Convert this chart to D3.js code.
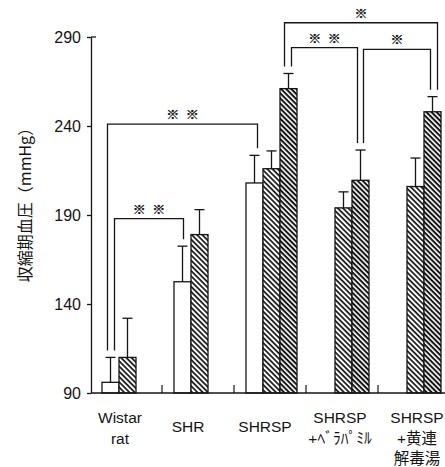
<!DOCTYPE html>
<html>
<head>
<meta charset="utf-8">
<script src="https://cdn.jsdelivr.net/npm/d3@7"></script>
<style>
  body { margin: 0; background: #fff; }
  svg { display: block; }
</style>
</head>
<body>
<div id="chart"></div>
<script>
// data (mmHg, mean + upper error)
const categories = ["Wistar rat", "SHR", "SHRSP", "SHRSP+ﾍﾞﾗﾊﾟﾐﾙ", "SHRSP+黄連解毒湯"];
const categoryLines = [["Wistar", "rat"], ["SHR"], ["SHRSP"], ["SHRSP", "+ﾍﾞﾗﾊﾟﾐﾙ"], ["SHRSP", "+黄連", "解毒湯"]];
const seriesNames = ["open", "hatched", "dense"];
const openMeans = [96, 152.5, 208, null, null];
const openErrors = [14, 20, 15.5, null, null];
const hatchedMeans = [110, 179, 216, 194, 206];
const hatchedErrors = [22, 14, 10, 9, 16];
const denseMeans = [null, null, 261, 209.5, 248];
const denseErrors = [null, null, 8.5, 17, 8.5];
const yTicks = [90, 140, 190, 240, 290];
const yTitle = "収縮期血圧（mmHg）";
// significance brackets: [category, series] at both ends
const brackets = [
  { from: [0, 0], to: [1, 0], level: 188, mark: "※\u2002※" },
  { from: [0, 0], to: [2, 0], level: 241, mark: "※\u2002※" },
  { from: [2, 2], to: [4, 2], level: 298, mark: "※" },
  { from: [2, 2], to: [3, 2], level: 284, mark: "※\u2002※" },
  { from: [3, 2], to: [4, 2], level: 283, mark: "※" }
];

const W = 445, H = 467;
const ink = "#141414";
const bracketDx = [[4, 1], [-3, 3], [-4, 5], [3, -3], [3, -2]];
const labelShift = [-6, -10, -5, -2, 3];

const svg = d3.select("#chart").append("svg")
  .attr("width", W).attr("height", H)
  .style("font-family", "'Liberation Sans', Arial, 'Noto Sans CJK JP', sans-serif");

const defs = svg.append("defs");
function hatch(id, gap, thick) {
  const p = defs.append("pattern")
    .attr("id", id)
    .attr("patternUnits", "userSpaceOnUse")
    .attr("width", gap).attr("height", gap)
    .attr("patternTransform", "rotate(45)");
  p.append("rect").attr("width", gap).attr("height", gap).attr("fill", "#fff");
  p.append("rect").attr("width", gap).attr("height", thick).attr("fill", ink);
}
hatch("hatchB", 3.7, 1.7);
hatch("hatchC", 3.6, 2.0);
const fills = ["#fff", "url(#hatchB)", "url(#hatchC)"];

const y = d3.scaleLinear().domain([90, 290]).range([393, 37]);
const x = d3.scaleBand().domain(categories).range([90, 450]);
const slot = d3.scaleBand().domain(seriesNames).range([12, 63]);

const means = [openMeans, hatchedMeans, denseMeans];
const errors = [openErrors, hatchedErrors, denseErrors];

const bars = [];
categories.forEach((c, i) => {
  seriesNames.forEach((s, j) => {
    if (means[j][i] != null) {
      bars.push({ c: c, i: i, s: s, j: j, v: means[j][i], e: errors[j][i] });
    }
  });
});
const barX = (i, j) => x(categories[i]) + slot(seriesNames[j]);
const barMid = (i, j) => barX(i, j) + slot.bandwidth() / 2;
const errTop = (i, j) => y(means[j][i] + errors[j][i]);

// bars
svg.append("g").selectAll("rect")
  .data(bars)
  .enter().append("rect")
  .attr("x", d => barX(d.i, d.j))
  .attr("y", d => y(d.v))
  .attr("width", slot.bandwidth())
  .attr("height", d => y(90) - y(d.v))
  .attr("fill", d => fills[d.j])
  .attr("stroke", ink)
  .attr("stroke-width", 1.3);

// error bars (upper only)
const eb = svg.append("g").attr("stroke", ink).attr("stroke-width", 1.3);
eb.selectAll("line.v")
  .data(bars).enter().append("line")
  .attr("class", "v")
  .attr("x1", d => barMid(d.i, d.j)).attr("x2", d => barMid(d.i, d.j))
  .attr("y1", d => y(d.v)).attr("y2", d => y(d.v + d.e));
eb.selectAll("line.cap")
  .data(bars).enter().append("line")
  .attr("class", "cap")
  .attr("x1", d => barMid(d.i, d.j) - 5).attr("x2", d => barMid(d.i, d.j) + 5)
  .attr("y1", d => y(d.v + d.e)).attr("y2", d => y(d.v + d.e));

// y axis
const yAxis = svg.append("g")
  .attr("transform", "translate(91,0)")
  .call(d3.axisLeft(y).tickValues(yTicks).tickSize(4).tickSizeOuter(0).tickPadding(6));
yAxis.select(".domain").attr("stroke", ink).attr("stroke-width", 1.3);
yAxis.selectAll(".tick line").attr("stroke", ink).attr("stroke-width", 1.3);
yAxis.selectAll(".tick text")
  .attr("fill", ink)
  .style("font-size", "16px")
  .style("font-family", "'Liberation Sans', Arial, sans-serif");
svg.append("line")
  .attr("x1", 91).attr("x2", 96)
  .attr("y1", y(290)).attr("y2", y(290))
  .attr("stroke", ink).attr("stroke-width", 1.3);

// x baseline and group ticks
svg.append("line")
  .attr("x1", 91).attr("x2", W)
  .attr("y1", y(90)).attr("y2", y(90))
  .attr("stroke", ink).attr("stroke-width", 1.4);
svg.append("g").selectAll("line")
  .data(categories.slice(1))
  .enter().append("line")
  .attr("x1", d => x(d)).attr("x2", d => x(d))
  .attr("y1", y(90) - 8).attr("y2", y(90))
  .attr("stroke", ink).attr("stroke-width", 1.2);

// category labels
const lab = svg.append("g").selectAll("text")
  .data(categoryLines)
  .enter().append("text")
  .attr("text-anchor", "middle")
  .attr("fill", ink)
  .style("font-size", "15.5px")
  .attr("transform", (d, i) => {
    const cx = x(categories[i]) + x.bandwidth() / 2 + labelShift[i];
    return "translate(" + cx + "," + (d.length === 1 ? 432 : 423) + ")";
  });
lab.selectAll("tspan")
  .data(d => d)
  .enter().append("tspan")
  .attr("x", 0)
  .attr("dy", (d, k) => k === 0 ? 0 : 20.5)
  .text(d => d);

// y title
svg.append("text")
  .attr("transform", "translate(31,201) rotate(-90)")
  .attr("text-anchor", "middle")
  .attr("fill", ink)
  .style("font-size", "16px")
  .style("font-family", "'Noto Sans CJK JP', sans-serif")
  .text(yTitle);

// significance brackets
const br = svg.append("g");
brackets.forEach((b, k) => {
  const x1 = barMid(b.from[0], b.from[1]) + bracketDx[k][0];
  const x2 = barMid(b.to[0], b.to[1]) + bracketDx[k][1];
  const yb1 = errTop(b.from[0], b.from[1]) - 7;
  const yb2 = errTop(b.to[0], b.to[1]) - 7;
  const yl = y(b.level);
  br.append("path")
    .attr("d", "M" + x1 + "," + yb1 + "V" + yl + "H" + x2 + "V" + yb2)
    .attr("fill", "none")
    .attr("stroke", ink)
    .attr("stroke-width", 1.3);
  br.append("text")
    .attr("x", (x1 + x2) / 2)
    .attr("y", yl - 5)
    .attr("text-anchor", "middle")
    .attr("fill", ink)
    .attr("stroke", ink)
    .attr("stroke-width", 0.35)
    .style("font-size", "13px")
    .style("font-family", "'Noto Sans CJK JP', sans-serif")
    .text(b.mark);
});
</script>
</body>
</html>
